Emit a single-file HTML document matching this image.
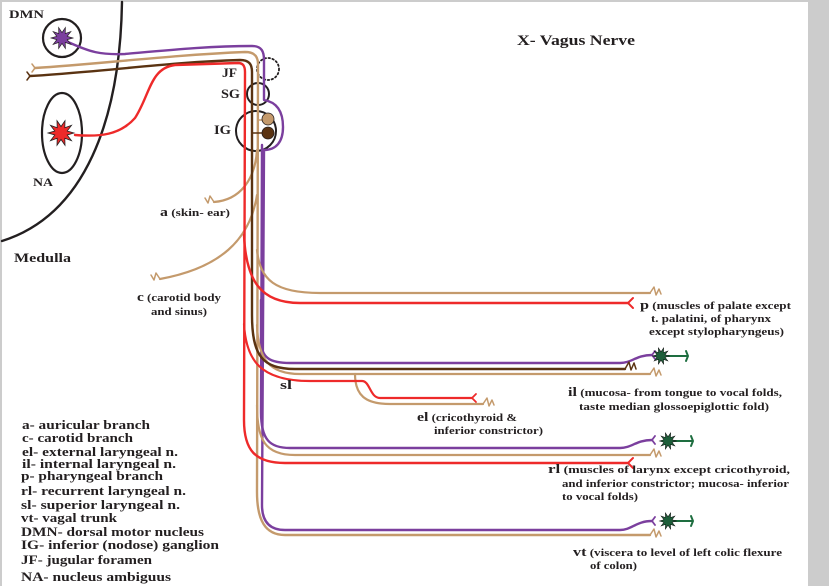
<!DOCTYPE html>
<html><head><meta charset="utf-8"><style>
html,body{margin:0;padding:0;background:#ccc;}
svg{display:block;}
text{font-family:"Liberation Serif",serif;font-weight:bold;fill:#231f20;}
</style></head><body>
<svg width="829" height="586" viewBox="0 0 829 586" xmlns="http://www.w3.org/2000/svg">
<defs>
<polygon id="st" points="10,0 4.76,1.55 8.09,5.88 2.94,4.05 3.09,9.51 0,5 -3.09,9.51 -2.94,4.05 -8.09,5.88 -4.76,1.55 -10,0 -4.76,-1.55 -8.09,-5.88 -2.94,-4.05 -3.09,-9.51 0,-5 3.09,-9.51 2.94,-4.05 8.09,-5.88 4.76,-1.55"/>
</defs>
<rect x="0" y="0" width="829" height="586" fill="#cccccc"/>
<rect x="2" y="2" width="806" height="584" fill="#ffffff"/>
<g fill="none" stroke-linecap="round" stroke-linejoin="round">
<path d="M122,2 C120,120 85,215 2,241" stroke="#231f20" stroke-width="2.4"/>
<circle cx="62" cy="38" r="19" stroke="#231f20" stroke-width="2.2"/>
<ellipse cx="62" cy="133" rx="20" ry="40" stroke="#231f20" stroke-width="2.2"/>
<circle cx="268" cy="69" r="11" stroke="#231f20" stroke-width="1.8" stroke-dasharray="1.5,2.5"/>
<circle cx="258" cy="94" r="11" stroke="#231f20" stroke-width="2"/>
<circle cx="256" cy="131" r="20" stroke="#231f20" stroke-width="2"/>
<path d="M68,42 C90,52 100,55 125,54 C170,50 210,46 252,46 C262,46 264,52 264,60 L264,100 C276,102 283,110 283,127 C283,142 276,150 264,150 L262,505 C262,522 270,530 285,530 L620,530 C632,530 636,521 652,521" stroke="#7b3f9e" stroke-width="2.4"/>
<path d="M262,145 L261,412 C261,440 270,448 290,448 L620,448 C632,448 636,440 652,440" stroke="#7b3f9e" stroke-width="2.4"/>
<path d="M261,300 L261,340 C261,358 270,363 290,363 L620,363 C632,363 636,355 652,355" stroke="#7b3f9e" stroke-width="2.4"/>
<path d="M35,68 C100,64 170,55 245,52 C255,52 258,57 258,64 L257,492 C257,520 265,535 285,535 L650,535" stroke="#c49a6c" stroke-width="2.4"/>
<path d="M32,64 L35,68 L32,72" stroke="#c49a6c" stroke-width="1.5"/>
<path d="M258,120 L268,120" stroke="#c49a6c" stroke-width="1.6"/>
<path d="M257,150 C255,180 240,200 214,202" stroke="#c49a6c" stroke-width="2.2"/>
<path d="M214,202 L210,196 L208,203 L205,198" stroke="#c49a6c" stroke-width="1.5"/>
<path d="M257,195 C250,240 220,268 160,279" stroke="#c49a6c" stroke-width="2.2"/>
<path d="M160,279 L156,273 L154,280 L151,275" stroke="#c49a6c" stroke-width="1.5"/>
<path d="M257,250 C260,280 275,293 320,293 L650,293" stroke="#c49a6c" stroke-width="2.2"/>
<path d="M257,325 C258,360 270,374 300,374 L650,374" stroke="#c49a6c" stroke-width="2.2"/>
<path d="M257,405 C257,440 265,455 295,455 L650,455" stroke="#c49a6c" stroke-width="2.2"/>
<path d="M355,374 C355,395 365,404 390,404 L483,404" stroke="#c49a6c" stroke-width="2.2"/>
<path d="M650,293 L654,287 L656,295 L659,289 L661,294" stroke="#c49a6c" stroke-width="1.5"/>
<path d="M650,374 L654,368 L656,376 L659,370 L661,375" stroke="#c49a6c" stroke-width="1.5"/>
<path d="M650,455 L654,449 L656,457 L659,451 L661,456" stroke="#c49a6c" stroke-width="1.5"/>
<path d="M650,535 L654,529 L656,537 L659,531 L661,536" stroke="#c49a6c" stroke-width="1.5"/>
<path d="M483,404 L487,398 L489,406 L492,400 L494,405" stroke="#c49a6c" stroke-width="1.5"/>
<path d="M30,76 C100,72 170,62 240,60 C249,60 252,64 252,72 L252,315 C252,355 262,369 295,369 L625,369" stroke="#5a3312" stroke-width="2.4"/>
<path d="M27,72 L30,76 L27,80" stroke="#5a3312" stroke-width="1.5"/>
<path d="M252,133 L262,133" stroke="#5a3312" stroke-width="1.6"/>
<path d="M625,369 L629,362 L631,370 L634,363 L636,369" stroke="#5a3312" stroke-width="1.5"/>
<path d="M75,135 C100,137 120,135 135,118 C150,95 150,68 175,65 L238,63 C243,63 245,66 245,72 L244,420 C244,450 255,463 285,463 L628,463" stroke="#ee2a2a" stroke-width="2.4"/>
<path d="M244,235 C246,280 260,303 300,303 L628,303" stroke="#ee2a2a" stroke-width="2.4"/>
<path d="M244,324 C246,360 260,381 310,381 L362,381 C370,381 370,398 380,398 L472,398" stroke="#ee2a2a" stroke-width="2.2"/>
<path d="M633,298 L628,303 L633,308" stroke="#ee2a2a" stroke-width="2"/>
<path d="M633,458 L628,463 L633,468" stroke="#ee2a2a" stroke-width="2"/>
<path d="M476,394 L472,398 L476,402" stroke="#ee2a2a" stroke-width="1.8"/>
<path d="M655,351 L652,355 L655,359 M655,436 L652,440 L655,444 M655,517 L652,521 L655,525" stroke="#7b3f9e" stroke-width="1.8"/>
<path d="M668,356 L688,356 M686,351 L688,356 L686,361" stroke="#1e6e40" stroke-width="2"/>
<path d="M672,441 L693,441 M691,436 L693,441 L691,446" stroke="#1e6e40" stroke-width="2"/>
<path d="M672,521 L693,521 M691,516 L693,521 L691,526" stroke="#1e6e40" stroke-width="2"/>
</g>
<use href="#st" transform="translate(62,38) scale(1.1)" fill="#7b3f9e" stroke="#231f20" stroke-width="0.6"/>
<use href="#st" transform="translate(61,133) scale(1.3)" fill="#ee2a2a" stroke="#231f20" stroke-width="0.6"/>
<use href="#st" transform="translate(661,356) scale(0.85)" fill="#1e5e3a" stroke="#111" stroke-width="0.6"/>
<use href="#st" transform="translate(668,441) scale(0.85)" fill="#1e5e3a" stroke="#111" stroke-width="0.6"/>
<use href="#st" transform="translate(668,521) scale(0.85)" fill="#1e5e3a" stroke="#111" stroke-width="0.6"/>
<circle cx="268" cy="119" r="6" fill="#c49a6c" stroke="#231f20" stroke-width="0.8"/>
<circle cx="268" cy="133" r="6" fill="#5a3312" stroke="#231f20" stroke-width="0.8"/>
<g lengthAdjust="spacingAndGlyphs">
<text x="517" y="45" font-size="15" textLength="118" lengthAdjust="spacingAndGlyphs">X- Vagus Nerve</text>
<text x="9" y="18" font-size="12" textLength="35" lengthAdjust="spacingAndGlyphs">DMN</text>
<text x="33" y="186" font-size="12" textLength="20" lengthAdjust="spacingAndGlyphs">NA</text>
<text x="14" y="262" font-size="13" textLength="57" lengthAdjust="spacingAndGlyphs">Medulla</text>
<text x="222" y="77" font-size="13" textLength="15" lengthAdjust="spacingAndGlyphs">JF</text>
<text x="221" y="98" font-size="13" textLength="19" lengthAdjust="spacingAndGlyphs">SG</text>
<text x="214" y="134" font-size="13" textLength="17" lengthAdjust="spacingAndGlyphs">IG</text>
<text x="160" y="216" font-size="10.5" textLength="70" lengthAdjust="spacingAndGlyphs"><tspan font-size="12.5">a</tspan> (skin- ear)</text>
<text x="137" y="301" font-size="10.5" textLength="84" lengthAdjust="spacingAndGlyphs"><tspan font-size="12.5">c</tspan> (carotid body</text>
<text x="151" y="315" font-size="10.5" textLength="56" lengthAdjust="spacingAndGlyphs">and sinus)</text>
<text x="280" y="389" font-size="13" textLength="12" lengthAdjust="spacingAndGlyphs">sl</text>
<text x="417" y="421" font-size="10.5" textLength="100" lengthAdjust="spacingAndGlyphs"><tspan font-size="13">el</tspan> (cricothyroid &amp;</text>
<text x="434" y="434" font-size="10.5" textLength="109" lengthAdjust="spacingAndGlyphs">inferior constrictor)</text>
<text x="640" y="309" font-size="10.5" textLength="151" lengthAdjust="spacingAndGlyphs"><tspan font-size="13">p</tspan> (muscles of palate except</text>
<text x="651" y="322" font-size="10.5" textLength="120" lengthAdjust="spacingAndGlyphs">t. palatini, of pharynx</text>
<text x="649" y="335" font-size="10.5" textLength="135" lengthAdjust="spacingAndGlyphs">except stylopharyngeus)</text>
<text x="568" y="396" font-size="10.5" textLength="214" lengthAdjust="spacingAndGlyphs"><tspan font-size="13">il</tspan> (mucosa- from tongue to vocal folds,</text>
<text x="579" y="410" font-size="10.5" textLength="190" lengthAdjust="spacingAndGlyphs">taste median glossoepiglottic fold)</text>
<text x="548" y="473" font-size="10.5" textLength="242" lengthAdjust="spacingAndGlyphs"><tspan font-size="13">rl</tspan> (muscles of larynx except cricothyroid,</text>
<text x="562" y="487" font-size="10.5" textLength="227" lengthAdjust="spacingAndGlyphs">and inferior constrictor; mucosa- inferior</text>
<text x="562" y="500" font-size="10.5" textLength="76" lengthAdjust="spacingAndGlyphs">to vocal folds)</text>
<text x="573" y="556" font-size="10.5" textLength="209" lengthAdjust="spacingAndGlyphs"><tspan font-size="13">vt</tspan> (viscera to level of left colic flexure</text>
<text x="590" y="569" font-size="10.5" textLength="47" lengthAdjust="spacingAndGlyphs">of colon)</text>
</g>
<g font-size="13">
<text x="22" y="429" textLength="128" lengthAdjust="spacingAndGlyphs">a- auricular branch</text>
<text x="22" y="442" textLength="111" lengthAdjust="spacingAndGlyphs">c- carotid branch</text>
<text x="22" y="456" textLength="156" lengthAdjust="spacingAndGlyphs">el- external laryngeal n.</text>
<text x="22" y="468" textLength="154" lengthAdjust="spacingAndGlyphs">il- internal laryngeal n.</text>
<text x="21" y="480" textLength="142" lengthAdjust="spacingAndGlyphs">p- pharyngeal branch</text>
<text x="21" y="495" textLength="165" lengthAdjust="spacingAndGlyphs">rl- recurrent laryngeal n.</text>
<text x="21" y="509" textLength="159" lengthAdjust="spacingAndGlyphs">sl- superior laryngeal n.</text>
<text x="21" y="522" textLength="96" lengthAdjust="spacingAndGlyphs">vt- vagal trunk</text>
<text x="21" y="536" textLength="183" lengthAdjust="spacingAndGlyphs">DMN- dorsal motor nucleus</text>
<text x="21" y="549" textLength="198" lengthAdjust="spacingAndGlyphs">IG- inferior (nodose) ganglion</text>
<text x="21" y="564" textLength="131" lengthAdjust="spacingAndGlyphs">JF- jugular foramen</text>
<text x="21" y="581" textLength="150" lengthAdjust="spacingAndGlyphs">NA- nucleus ambiguus</text>
</g>
</svg>
</body></html>
